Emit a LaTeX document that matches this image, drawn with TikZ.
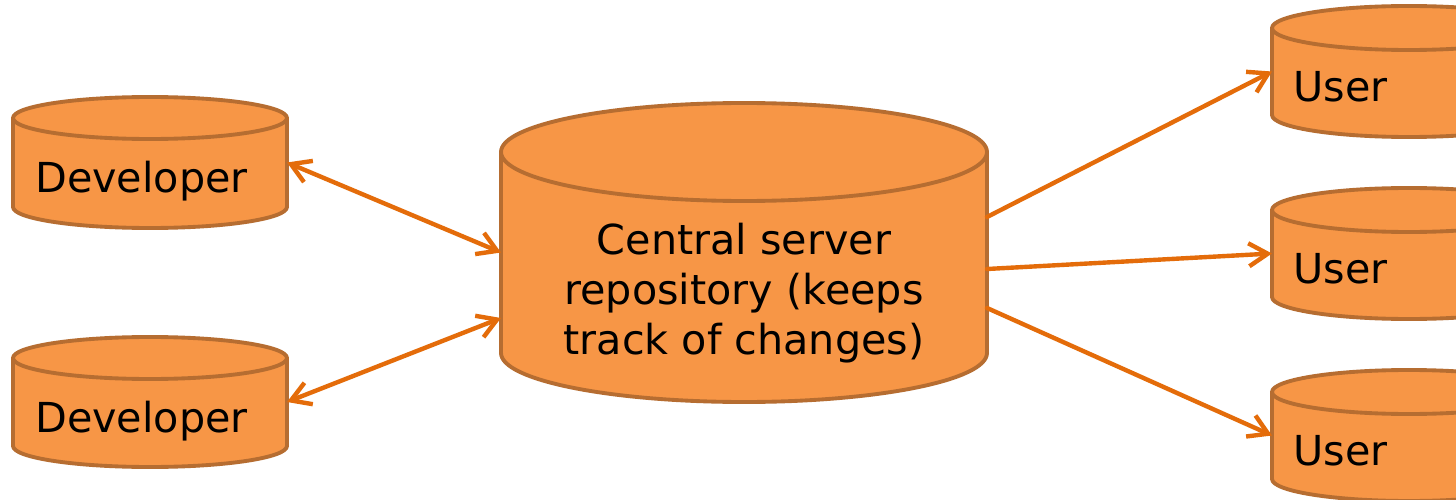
\documentclass[tikz,border=0pt]{standalone}
\usepackage{fontspec}
\setmainfont{DejaVu Sans}
\usepackage{xcolor}
\usetikzlibrary{arrows.meta,positioning,backgrounds}
\definecolor{canfill}{HTML}{F79646}
\definecolor{canline}{HTML}{B66D31}
\definecolor{linkc}{HTML}{E46C0A}
\tikzset{
  body/.style={rectangle, inner sep=0pt, outer sep=0pt},
  lab/.style={inner sep=0pt, font=\fontsize{23.5}{28.5}\selectfont},
  can/.style={fill=canfill, draw=canline, line width=2.2pt, line join=round},
  rim/.style={draw=canline, line width=2.2pt},
  link/.style={draw=linkc, line width=2.5pt, line cap=round, -{Straight Barb[length=3.8mm, width=4.6mm]}},
  both/.style={link, {Straight Barb[length=3.8mm, width=4.6mm]}-{Straight Barb[length=3.8mm, width=4.6mm]}},
}

\begin{document}
\begin{tikzpicture}
\useasboundingbox (0,0) rectangle (29.12,9.98);

% cylinder bodies, between the centres of the two end ellipses
\node[body, minimum width=5.48cm, minimum height=1.78cm] (dev1) at (3.0,6.73) {};
\node[body, minimum width=5.48cm, minimum height=1.76cm] (dev2) at (3.0,1.94) {};
\node[body, minimum width=9.72cm, minimum height=4.02cm] (srv) at (14.88,4.93) {};
\node[body, minimum width=5.48cm, minimum height=1.74cm] (usr1) at (28.18,8.55) {};
\node[body, minimum width=5.48cm, minimum height=1.74cm] (usr2) at (28.18,4.91) {};
\node[body, minimum width=5.48cm, minimum height=1.74cm] (usr3) at (28.18,1.27) {};

\node[lab, anchor=base west] (dev1t) at ([shift={(0.44,-0.6)}]dev1.west) {Developer};
\node[lab, anchor=base west] (dev2t) at ([shift={(0.44,-0.6)}]dev2.west) {Developer};
\node[lab, align=center] (srvt) at ([yshift=-0.82cm]srv.center) {Central server\\repository (keeps\\track of changes)};
\node[lab, anchor=base west] (usr1t) at ([shift={(0.42,-0.6)}]usr1.west) {User};
\node[lab, anchor=base west] (usr2t) at ([shift={(0.42,-0.6)}]usr2.west) {User};
\node[lab, anchor=base west] (usr3t) at ([shift={(0.42,-0.6)}]usr3.west) {User};

\begin{scope}[on background layer]
\fill[white] (0,0) rectangle (29.12,9.98);
\foreach \c/\rx/\ry in {dev1/2.74/0.42, dev2/2.74/0.42, srv/4.86/0.98, usr1/2.74/0.44, usr2/2.74/0.44, usr3/2.74/0.44}{
  \draw[can] (\c.north west) -- (\c.south west)
    arc[start angle=180, end angle=360, x radius=\rx, y radius=\ry]
    -- (\c.north east)
    arc[start angle=0, end angle=180, x radius=\rx, y radius=\ry] -- cycle;
  \draw[rim] (\c.north west) arc[start angle=180, end angle=360, x radius=\rx, y radius=\ry];
}
\end{scope}

% developers push and pull, users only pull
\draw[both] (dev1.east) -- (srv.west);
\draw[both] (dev2.east) -- ([yshift=-1.31cm]srv.west);
\draw[link] ([yshift=0.71cm]srv.east) -- (usr1.west);
\draw[link] ([yshift=-0.33cm]srv.east) -- (usr2.west);
\draw[link] ([yshift=-1.11cm]srv.east) -- (usr3.west);
\end{tikzpicture}
\end{document}
